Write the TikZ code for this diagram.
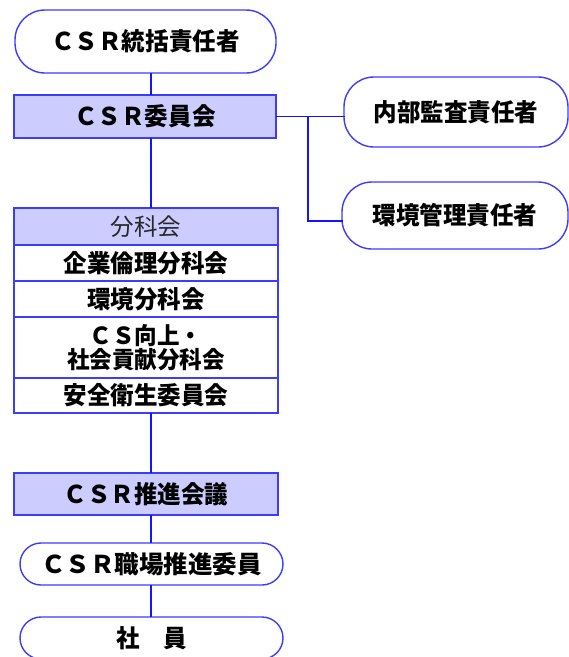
\documentclass[tikz,border=0pt]{standalone}
\usepackage{fontspec}
\usetikzlibrary{calc}
\setmainfont{Noto Sans CJK JP}
\definecolor{lineblue}{RGB}{20,20,255}
\definecolor{boxblue}{RGB}{60,60,255}
\definecolor{lav}{RGB}{204,204,255}
\newcommand{\sq}[1]{\scalebox{0.96}[1]{#1}}
\begin{document}
\begin{tikzpicture}[x=1pt,y=-1pt,
  base/.style={draw=boxblue,line width=1.4pt,inner sep=0pt,outer sep=0pt,anchor=north west,
    font=\fontsize{24.5}{22}\selectfont\bfseries,align=center,text=black},
  pill/.style={base,rounded corners=#1},
  pill/.default=30pt,
  band/.style={base,fill=lav},
  row/.style={base,fill=white},
  conn/.style={draw=lineblue,line width=1.6pt}]
\useasboundingbox (0,0) rectangle (569,657);
\clip (0,0) rectangle (569,657);
\fill[white] (0,0) rectangle (569,657);
% nodes
\node[pill, minimum width=261pt, minimum height=63pt] (top) at (15,10) {\sq{ＣＳＲ統括責任者}};
\node[band, minimum width=262pt, minimum height=43pt] (csr) at (14,95) {\sq{ＣＳＲ委員会}};
\node[pill, minimum width=224pt, minimum height=70pt] (naibu) at (344,77) {\sq{内部監査責任者}};
\node[pill, minimum width=226pt, minimum height=67pt] (kankyo) at (342,182) {\sq{環境管理責任者}};
\node[band, minimum width=264pt, minimum height=37pt, font=\fontsize{23.5}{22}\selectfont, text={rgb,255:red,40;green,40;blue,40}] (bunka) at (14,208) {分科会};
\node[row, minimum width=264pt, minimum height=36pt] (r1) at (14,245) {\sq{企業倫理分科会}};
\node[row, minimum width=264pt, minimum height=36pt] (r2) at (14,281) {\sq{環境分科会}};
\node[row, minimum width=264pt, minimum height=61pt, font=\fontsize{23.5}{21}\selectfont\bfseries] (r3) at (14,317) {\sq{ＣＳ向上・}\\\sq{社会貢献分科会}};
\node[row, minimum width=264pt, minimum height=35pt] (r4) at (14,378) {\sq{安全衛生委員会}};
\node[band, minimum width=264pt, minimum height=42pt] (suishin) at (14,473) {\sq{ＣＳＲ推進会議}};
\node[pill=21pt, minimum width=263pt, minimum height=42pt] (shokuba) at (20,543) {ＣＳＲ職場推進委員};
\node[pill=21pt, minimum width=263pt, minimum height=42pt] (shain) at (20,617) {\sq{社　員}};
% spine
\coordinate (spine) at (151,0);
\coordinate (branch) at (307.7,0);
\draw[conn] (top.south -| spine) -- (csr.north -| spine);
\draw[conn] (csr.south -| spine) -- (bunka.north -| spine);
\draw[conn] (r4.south -| spine) -- (suishin.north -| spine);
\draw[conn] (suishin.south -| spine) -- (shokuba.north -| spine);
\draw[conn] (shokuba.south -| spine) -- (shain.north -| spine);
% right branch
\coordinate (kin) at ($(kankyo.west)+(0,5.5)$);
\draw[conn] (csr.east) -- ($(csr.east -| naibu.west)+(1,0)$);
\draw[conn] (csr.east -| branch) -- (kin -| branch) -- ($(kin)+(1,0)$);
\end{tikzpicture}
\end{document}
